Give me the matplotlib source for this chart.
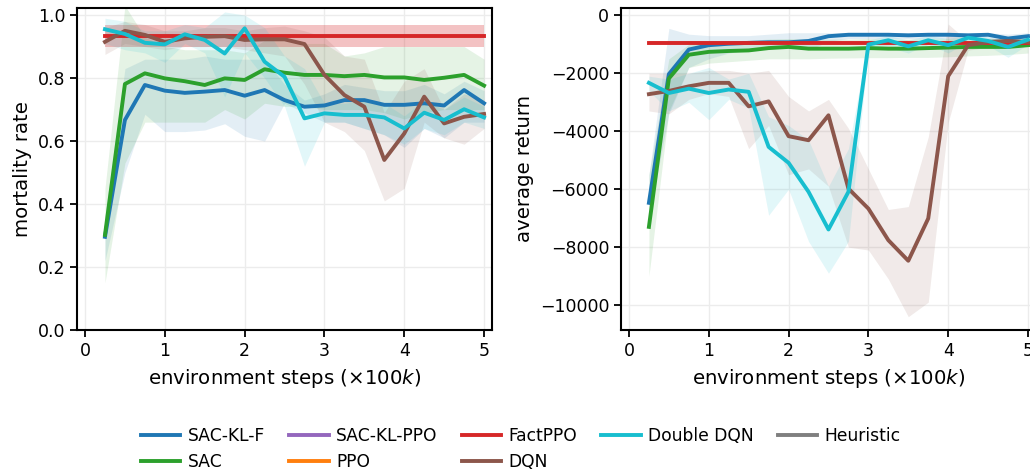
import matplotlib
matplotlib.use("Agg")
import matplotlib.pyplot as plt
import numpy as np

steps = [0.25, 0.5, 0.75, 1.0, 1.25, 1.5, 1.75, 2.0, 2.25, 2.5,
         2.75, 3.0, 3.25, 3.5, 3.75, 4.0, 4.25, 4.5, 4.75, 5.0]

# mortality rate (mean, lower, upper)
mort_sackl = [0.296, 0.667, 0.778, 0.760, 0.753, 0.757, 0.762, 0.744, 0.762, 0.730,
              0.709, 0.713, 0.730, 0.730, 0.715, 0.715, 0.720, 0.713, 0.762, 0.720]
mort_sackl_lo = [0.22, 0.50, 0.685, 0.63, 0.63, 0.635, 0.655, 0.615, 0.60, 0.72,
                 0.69, 0.66, 0.66, 0.64, 0.62, 0.58, 0.64, 0.61, 0.66, 0.66]
mort_sackl_hi = [0.36, 0.83, 0.86, 0.86, 0.86, 0.87, 0.86, 0.86, 0.86, 0.78,
                 0.73, 0.75, 0.78, 0.77, 0.76, 0.76, 0.78, 0.75, 0.79, 0.76]

mort_sac = [0.302, 0.781, 0.815, 0.799, 0.790, 0.778, 0.799, 0.794, 0.828, 0.817,
            0.810, 0.810, 0.806, 0.810, 0.802, 0.802, 0.794, 0.801, 0.810, 0.776]
mort_sac_lo = [0.15, 0.53, 0.66, 0.66, 0.66, 0.66, 0.70, 0.67, 0.72, 0.71,
               0.71, 0.70, 0.70, 0.70, 0.69, 0.67, 0.69, 0.70, 0.70, 0.70]
mort_sac_hi = [0.45, 1.03, 0.93, 0.90, 0.89, 0.89, 0.89, 0.88, 0.92, 0.92,
               0.91, 0.91, 0.87, 0.88, 0.90, 0.90, 0.90, 0.90, 0.90, 0.86]

mort_fact = [0.934] * 20
mort_fact_lo = [0.898] * 20
mort_fact_hi = [0.968] * 20

mort_dqn = [0.915, 0.950, 0.937, 0.915, 0.926, 0.931, 0.933, 0.921, 0.923, 0.923,
            0.908, 0.810, 0.746, 0.709, 0.540, 0.624, 0.741, 0.656, 0.677, 0.686]
mort_dqn_lo = [0.875, 0.91, 0.90, 0.89, 0.90, 0.90, 0.90, 0.89, 0.88, 0.87,
               0.78, 0.66, 0.63, 0.57, 0.41, 0.45, 0.66, 0.61, 0.59, 0.64]
mort_dqn_hi = [0.96, 0.98, 0.97, 0.95, 0.95, 0.96, 0.96, 0.95, 0.96, 0.965,
               0.95, 0.93, 0.87, 0.86, 0.69, 0.79, 0.83, 0.70, 0.75, 0.73]

mort_ddqn = [0.955, 0.940, 0.912, 0.907, 0.939, 0.921, 0.878, 0.958, 0.852, 0.804,
             0.672, 0.688, 0.683, 0.683, 0.675, 0.640, 0.690, 0.667, 0.701, 0.675]
mort_ddqn_lo = [0.91, 0.89, 0.88, 0.85, 0.91, 0.88, 0.74, 0.88, 0.80, 0.71,
                0.52, 0.66, 0.66, 0.64, 0.62, 0.59, 0.64, 0.62, 0.66, 0.64]
mort_ddqn_hi = [0.99, 0.98, 0.95, 0.95, 0.97, 0.96, 1.01, 1.00, 0.96, 0.87,
                0.83, 0.72, 0.72, 0.73, 0.72, 0.68, 0.73, 0.70, 0.74, 0.71]

# average return (mean, lower, upper)
ret_sackl = [-6470, -2030, -1180, -1030, -980, -950, -930, -930, -885, -720,
             -670, -670, -670, -690, -670, -670, -690, -670, -800, -720]
ret_sackl_lo = [-7000, -3400, -1800, -1500, -1300, -1200, -1100, -1100, -1200, -900,
                -800, -800, -800, -800, -800, -800, -800, -800, -1000, -900]
ret_sackl_hi = [-5500, -450, -650, -700, -700, -700, -650, -600, -600, -600,
                -600, -600, -600, -600, -600, -600, -600, -600, -650, -600]

ret_sac = [-7300, -2180, -1360, -1260, -1230, -1210, -1130, -1090, -1150, -1150,
           -1150, -1130, -1150, -1150, -1130, -1110, -1090, -1090, -1090, -1030]
ret_sac_lo = [-9000, -3300, -1800, -1650, -1600, -1550, -1500, -1500, -1500, -1480,
              -1470, -1460, -1460, -1450, -1450, -1430, -1400, -1380, -1350, -1300]
ret_sac_hi = [-5500, -1500, -1000, -900, -880, -860, -820, -800, -820, -820,
              -820, -800, -820, -820, -800, -800, -800, -800, -800, -780]

ret_fact = [-940] * 20
ret_fact_lo = [-990] * 20
ret_fact_hi = [-890] * 20

ret_dqn = [-2720, -2610, -2450, -2330, -2330, -3140, -2970, -4170, -4310, -3450,
           -5980, -6670, -7760, -8470, -7010, -2100, -1030, -920, -885, -920]
ret_dqn_lo = [-3300, -3400, -2900, -2700, -2800, -4600, -3800, -5500, -5300, -5900,
              -8000, -8100, -9100, -10400, -9900, -3700, -1200, -1100, -1000, -1000]
ret_dqn_hi = [-2000, -2000, -2000, -1900, -1900, -2000, -1900, -2800, -3300, -2900,
              -3900, -5300, -6700, -6600, -4200, -300, -900, -800, -800, -850]

ret_ddqn = [-2330, -2680, -2530, -2680, -2560, -2640, -4540, -5090, -6090, -7390,
            -6090, -1010, -860, -1070, -860, -1030, -770, -885, -1090, -840]
ret_ddqn_lo = [-2600, -3300, -3000, -3600, -2900, -3200, -6900, -6000, -7800, -8900,
               -7800, -1200, -1100, -1300, -1000, -1300, -900, -1050, -1450, -1000]
ret_ddqn_hi = [-2100, -2200, -2000, -1800, -2200, -2000, -3500, -3800, -4300, -5900,
               -4600, -850, -700, -850, -700, -800, -650, -750, -850, -700]

labels = ["SAC-KL-F", "SAC", "SAC-KL-PPO", "PPO", "FactPPO", "DQN", "Double DQN", "Heuristic"]
colors = ["tab:blue", "tab:green", "tab:purple", "tab:orange", "tab:red", "tab:brown", "tab:cyan", "tab:gray"]

mort = {"SAC-KL-F": (mort_sackl, mort_sackl_lo, mort_sackl_hi),
        "SAC": (mort_sac, mort_sac_lo, mort_sac_hi),
        "FactPPO": (mort_fact, mort_fact_lo, mort_fact_hi),
        "DQN": (mort_dqn, mort_dqn_lo, mort_dqn_hi),
        "Double DQN": (mort_ddqn, mort_ddqn_lo, mort_ddqn_hi)}
ret = {"SAC-KL-F": (ret_sackl, ret_sackl_lo, ret_sackl_hi),
       "SAC": (ret_sac, ret_sac_lo, ret_sac_hi),
       "FactPPO": (ret_fact, ret_fact_lo, ret_fact_hi),
       "DQN": (ret_dqn, ret_dqn_lo, ret_dqn_hi),
       "Double DQN": (ret_ddqn, ret_ddqn_lo, ret_ddqn_hi)}

plt.rcParams['font.family'] = ['DejaVu Sans']

fig = plt.figure(figsize=(10.3, 4.76), dpi=100)
ax1 = fig.add_axes([0.0748, 0.3067, 0.4029, 0.6775])
ax2 = fig.add_axes([0.6029, 0.3067, 0.4029, 0.6775])

handles = {}
for ax, data in [(ax1, mort), (ax2, ret)]:
    for name in labels:
        c = colors[labels.index(name)]
        if name in data:
            m, lo, hi = data[name]
            a = 0.28 if name == "FactPPO" else 0.12
            ax.fill_between(steps, lo, hi, color=c, alpha=a, lw=0)
            h, = ax.plot(steps, m, color=c, lw=2.8, label=name)
        else:
            h, = ax.plot([], [], color=c, lw=2.8, label=name)
        handles[name] = h

for ax in (ax1, ax2):
    ax.set_xlim(-0.1, 5.1)
    ax.set_xticks([0, 1, 2, 3, 4, 5])
    ax.grid(True, color='#ececec', lw=1)
    ax.set_axisbelow(True)
    for s in ax.spines.values():
        s.set_linewidth(1.5)
        s.set_color('black')
    ax.tick_params(labelsize=12.5, width=1.3, length=5)
    ax.set_xlabel(r'environment steps ($\times 100k$)', fontsize=14.2, labelpad=5)

ax1.set_ylim(0, 1.024)
ax1.set_yticks([0.0, 0.2, 0.4, 0.6, 0.8, 1.0])
ax1.set_ylabel('mortality rate', fontsize=14.2)

ax2.set_ylim(-10860, 270)
ax2.set_yticks([0, -2000, -4000, -6000, -8000, -10000])
ax2.set_ylabel('average return', fontsize=14.2)

fig.legend([handles[n] for n in labels], labels, loc='center', ncol=5,
           bbox_to_anchor=(521 / 1030, 1 - 449 / 476), frameon=False,
           fontsize=12.3, handlelength=2.3, handletextpad=0.45,
           columnspacing=1.4, labelspacing=0.45)

fig.savefig('out.png', dpi=100)
